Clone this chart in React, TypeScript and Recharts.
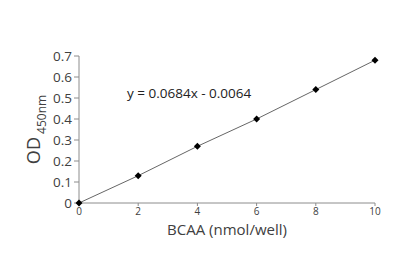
import { LineChart, Line, XAxis, YAxis, ReferenceDot } from "recharts";

const amounts = [0, 2, 4, 6, 8, 10];
const od450 = [0, 0.13, 0.27, 0.4, 0.54, 0.68];
const xTicks = [0, 2, 4, 6, 8, 10];
const yTicks = [0, 0.1, 0.2, 0.3, 0.4, 0.5, 0.6, 0.7];
const equation = "y = 0.0684x - 0.0064";

const data = amounts.map((x, i) => ({ x, y: od450[i] }));

const FONT = "'Open Sans', sans-serif";
const AXIS = "#8c8c8c";
const TEXT = "#404040";

const Diamond = (props: any) => {
  const { cx, cy } = props;
  if (cx == null || cy == null) return null;
  const s = 3.5;
  return (
    <polygon
      points={`${cx},${cy - s} ${cx + s},${cy} ${cx},${cy + s} ${cx - s},${cy}`}
      fill="#000"
    />
  );
};

const OdLabel = (props: any) => {
  const vb = props.viewBox || {};
  const cx = 40;
  const cy = vb.y + vb.height / 2;
  return (
    <text
      x={cx}
      y={cy}
      transform={`rotate(-90, ${cx}, ${cy})`}
      textAnchor="middle"
      fontFamily={FONT}
      fill={TEXT}
    >
      <tspan fontSize={18}>OD</tspan>
      <tspan fontSize={12} dy={6}> 450nm</tspan>
    </text>
  );
};

const XLabel = (props: any) => {
  const vb = props.viewBox || {};
  return (
    <text
      x={vb.x + vb.width / 2}
      y={235}
      textAnchor="middle"
      fontFamily={FONT}
      fontSize={15}
      fill={TEXT}
    >
      BCAA (nmol/well)
    </text>
  );
};

export default function App() {
  return (
    <div style={{ position: "absolute", left: 0, top: 0, background: "#fff" }}>
      <LineChart
        width={412}
        height={274}
        data={data}
        margin={{ top: 56, right: 37, bottom: 41, left: 30 }}
      >
        <XAxis
          dataKey="x"
          type="number"
          domain={[0, 10]}
          ticks={xTicks}
          interval={0}
          height={30}
          stroke={AXIS}
          tickSize={3}
          tick={{ fontSize: 10, fill: TEXT, fontFamily: FONT }}
          label={<XLabel />}
        />
        <YAxis
          type="number"
          domain={[0, 0.7]}
          ticks={yTicks}
          interval={0}
          width={49}
          stroke={AXIS}
          tickSize={5}
          tick={{ fontSize: 13.5, fill: TEXT, fontFamily: FONT }}
          tickFormatter={(v: number) => (v === 0 ? "0" : String(v))}
          label={<OdLabel />}
        />
        <Line
          dataKey="y"
          stroke="#666"
          strokeWidth={1}
          dot={<Diamond />}
          activeDot={false}
          isAnimationActive={false}
        />
        <ReferenceDot
          x={3.72}
          y={0.524}
          r={0}
          fill="none"
          stroke="none"
          label={{
            value: equation,
            position: "center",
            fontSize: 13.5,
            fill: "#222",
            fontFamily: FONT,
          }}
        />
      </LineChart>
    </div>
  );
}
